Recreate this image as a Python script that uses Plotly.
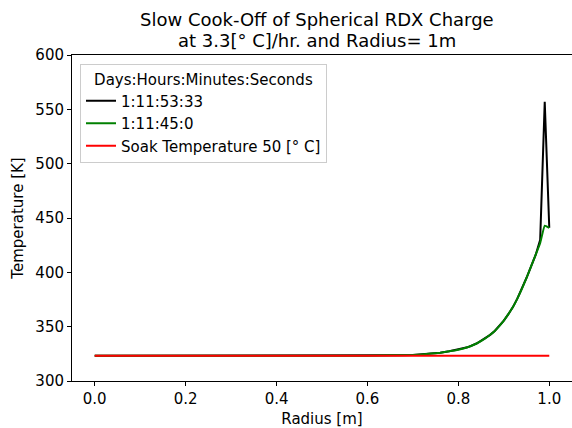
import plotly.graph_objects as go

# Data
radius_green = [0.0, 0.5, 0.6, 0.65, 0.7, 0.72, 0.74, 0.76, 0.78, 0.8, 0.82, 0.84, 0.86, 0.87, 0.88,
                0.89, 0.9, 0.91, 0.92, 0.93, 0.94, 0.95, 0.96, 0.97, 0.98, 0.99, 1.0]
temp_green = [323.15, 323.2, 323.35, 323.6, 324.0, 324.5, 325.2, 326.1, 327.3, 328.8, 331.0, 334.5,
              339.5, 342.5, 346.0, 350.5, 355.5, 361.5, 368.0, 376.0, 385.0, 395.0, 405.5, 416.0,
              427.0, 443.0, 441.0]

radius_black = [0.0, 0.5, 0.6, 0.65, 0.7, 0.72, 0.74, 0.76, 0.78, 0.8, 0.82, 0.84, 0.86, 0.87, 0.88,
                0.89, 0.9, 0.91, 0.92, 0.93, 0.94, 0.95, 0.96, 0.97, 0.98, 0.99, 1.0]
temp_black = [323.15, 323.2, 323.35, 323.6, 324.0, 324.5, 325.2, 326.1, 327.3, 328.8, 331.0, 334.5,
              339.5, 342.5, 346.0, 350.5, 355.5, 361.5, 368.0, 376.0, 385.0, 395.0, 405.5, 416.0,
              430.0, 557.0, 441.0]

radius_soak = [0.0, 1.0]
temp_soak = [323.15, 323.15]

labels = ["1:11:53:33", "1:11:45:0", "Soak Temperature 50 [° C]"]
legend_title = "Days:Hours:Minutes:Seconds"
title_lines = ["Slow Cook-Off of Spherical RDX Charge", "at 3.3[° C]/hr. and Radius= 1m"]
x_ticks = [0.0, 0.2, 0.4, 0.6, 0.8, 1.0]
y_ticks = [300, 350, 400, 450, 500, 550, 600]

font = "DejaVu Sans"
fs = 15
W, H = 572, 428
ML, MR, MT, MB = 72, 0, 55, 47
PW, PH = W - ML - MR, H - MT - MB

fig = go.Figure()
fig.add_trace(go.Scatter(x=radius_black, y=temp_black, mode="lines", name=labels[0],
                         line=dict(color="black", width=2)))
fig.add_trace(go.Scatter(x=radius_green, y=temp_green, mode="lines", name=labels[1],
                         line=dict(color="green", width=2, shape="spline", smoothing=0.3)))
fig.add_trace(go.Scatter(x=radius_soak, y=temp_soak, mode="lines", name=labels[2],
                         line=dict(color="red", width=2)))

axis_common = dict(showgrid=False, zeroline=False, showline=True, linecolor="black",
                   linewidth=1, mirror=True, ticks="outside", ticklen=4, tickcolor="black",
                   tickfont=dict(family=font, size=fs, color="black"))

# Title as two centred lines
title_cx = (317 - ML) / PW
for txt, ypx in zip(title_lines, [20, 40]):
    fig.add_annotation(text=txt, xref="paper", yref="paper", x=title_cx,
                       y=(H - MB - ypx) / PH, xanchor="center", yanchor="middle",
                       showarrow=False, font=dict(family=font, size=18, color="black"))

fig.update_layout(
    width=W, height=H,
    margin=dict(l=ML, r=MR, t=MT, b=MB),
    paper_bgcolor="white", plot_bgcolor="white",
    font=dict(family=font, color="black"),
    xaxis=dict(range=[-0.05, 1.05], tickvals=x_ticks, tickformat=".1f",
               title=dict(text="Radius [m]", font=dict(family=font, size=fs), standoff=8),
               **axis_common),
    yaxis=dict(range=[300, 600], tickvals=y_ticks,
               title=dict(text="Temperature [K]", font=dict(family=font, size=fs), standoff=8),
               **axis_common),
    legend=dict(x=(80 - ML) / PW, y=(H - MB - 64) / PH, xanchor="left", yanchor="top",
                bgcolor="rgba(255,255,255,0.8)", bordercolor="#cccccc", borderwidth=1,
                font=dict(family=font, size=fs, color="black"),
                title=dict(text=legend_title, side="top center",
                           font=dict(family=font, size=fs, color="black")),
                itemwidth=30, tracegroupgap=0),
    showlegend=True,
)

fig.write_html("out.html")
